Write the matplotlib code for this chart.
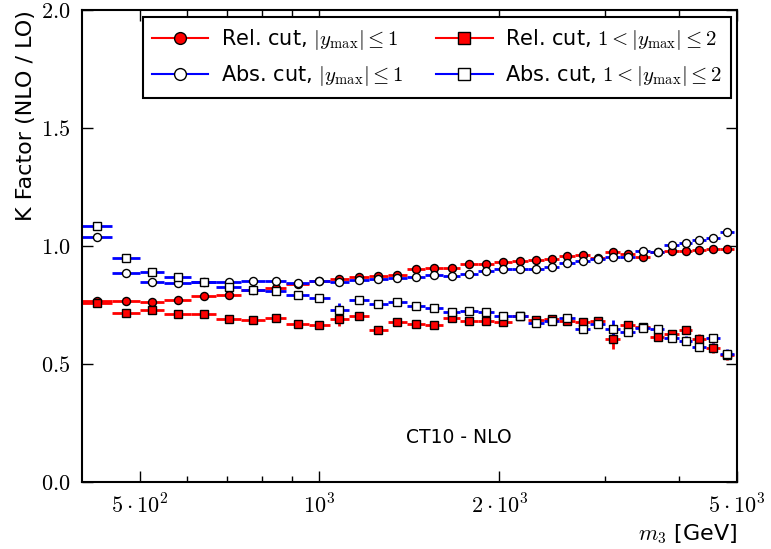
import numpy as np
import matplotlib
matplotlib.use("Agg")
import matplotlib.pyplot as plt
from matplotlib.lines import Line2D

plt.rcParams['mathtext.fontset'] = 'cm'
plt.rcParams['font.family'] = 'DejaVu Sans'

# bin edges in m3 [GeV]
edges = np.array([400, 450, 500, 550, 610, 670, 740, 810, 880, 960, 1040, 1120,
                  1210, 1300, 1400, 1500, 1610, 1720, 1840, 1960, 2100, 2230,
                  2380, 2520, 2680, 2840, 3010, 3190, 3380, 3580, 3780, 3990,
                  4210, 4440, 4690, 4940])

# K factors per bin
rel_central = [0.768, 0.767, 0.763, 0.773, 0.789, 0.794, 0.815, 0.823, 0.840, 0.850,
               0.861, 0.867, 0.873, 0.879, 0.901, 0.905, 0.908, 0.922, 0.925, 0.934,
               0.938, 0.941, 0.945, 0.958, 0.960, 0.948, 0.976, 0.966, 0.955, 0.974,
               0.977, 0.979, 0.982, 0.989, 0.987]
abs_central = [1.037, 0.884, 0.847, 0.845, 0.846, 0.847, 0.852, 0.852, 0.842, 0.852,
               0.846, 0.855, 0.861, 0.864, 0.867, 0.876, 0.873, 0.880, 0.894, 0.901,
               0.904, 0.904, 0.912, 0.929, 0.935, 0.944, 0.952, 0.955, 0.977, 0.973,
               1.006, 1.013, 1.025, 1.035, 1.058]
rel_forward = [0.757, 0.715, 0.730, 0.711, 0.712, 0.692, 0.688, 0.696, 0.671, 0.665,
               0.691, 0.705, 0.644, 0.678, 0.668, 0.664, 0.693, 0.684, 0.684, 0.679,
               0.705, 0.685, 0.692, 0.682, 0.679, 0.684, 0.605, 0.667, 0.655, 0.616,
               0.626, 0.643, 0.606, 0.568, 0.538]
abs_forward = [1.086, 0.948, 0.889, 0.870, 0.847, 0.828, 0.815, 0.811, 0.791, 0.781,
               0.730, 0.771, 0.754, 0.763, 0.746, 0.737, 0.722, 0.726, 0.719, 0.702,
               0.705, 0.672, 0.684, 0.693, 0.648, 0.669, 0.648, 0.634, 0.651, 0.647,
               0.609, 0.599, 0.573, 0.609, 0.544]

# statistical errors
err_central = [0.004] * 20 + [0.005] * 10 + [0.006] * 5
err_forward = [0.006, 0.006, 0.006, 0.006, 0.006, 0.006, 0.006, 0.006, 0.006, 0.006,
               0.030, 0.008, 0.008, 0.008, 0.008, 0.008, 0.010, 0.010, 0.010, 0.010,
               0.010, 0.010, 0.012, 0.012, 0.012, 0.012, 0.040, 0.015, 0.015, 0.015,
               0.015, 0.018, 0.020, 0.020, 0.020]

labels = [r"Rel. cut, $|y_{\rm max}|\leq 1$",
          r"Abs. cut, $|y_{\rm max}|\leq 1$",
          r"Rel. cut, $1<|y_{\rm max}|\leq 2$",
          r"Abs. cut, $1<|y_{\rm max}|\leq 2$"]

centres = 0.5 * (edges[:-1] + edges[1:])
xerr = [centres - edges[:-1], edges[1:] - centres]

fig = plt.figure(figsize=(7.71, 5.49), dpi=100)
ax = fig.add_axes([0.106, 0.122, 0.850, 0.860])

series = [
    (rel_central, err_central, 'red', 'red', 'o'),
    (rel_forward, err_forward, 'red', 'red', 's'),
    (abs_central, err_central, 'blue', 'white', 'o'),
    (abs_forward, err_forward, 'blue', 'white', 's'),
]
for vals, err, col, face, mk in series:
    ax.errorbar(centres, vals, xerr=xerr, yerr=err, fmt=mk, color=col,
                ecolor=col, elinewidth=2, capsize=0, markersize=5.8,
                markerfacecolor=face, markeredgecolor='black', markeredgewidth=1)

ax.set_xscale('log')
ax.set_xlim(400, 5000)
ax.set_ylim(0, 2)
ax.set_xticks([500, 1000, 2000, 5000])
ax.set_xticklabels([r"$5\cdot10^2$", r"$10^3$", r"$2\cdot10^3$", r"$5\cdot10^3$"])
ax.set_xticks([600, 700, 800, 900, 3000, 4000], minor=True)
ax.set_xticklabels([], minor=True)
ax.set_yticks([0, 0.5, 1.0, 1.5, 2.0])
ax.set_yticklabels([r"$0.0$", r"$0.5$", r"$1.0$", r"$1.5$", r"$2.0$"])
ax.tick_params(which='both', direction='in', top=True, right=True, labelsize=16, pad=8)
ax.tick_params(which='major', length=8, width=1)
ax.tick_params(which='minor', length=4, width=1)
for sp in ax.spines.values():
    sp.set_linewidth(1.5)

ax.set_ylabel("K Factor (NLO / LO)", fontsize=16, loc='top')
ax.set_xlabel(r"$m_3$ [GeV]", fontsize=16, loc='right')

ax.text(0.576, 0.095, "CT10 - NLO", transform=ax.transAxes, fontsize=13.5,
        ha='center', va='center')

handles = [
    Line2D([], [], color='red', lw=1.5, marker='o', markersize=8.5,
           markerfacecolor='red', markeredgecolor='black'),
    Line2D([], [], color='blue', lw=1.5, marker='o', markersize=8.5,
           markerfacecolor='white', markeredgecolor='black'),
    Line2D([], [], color='red', lw=1.5, marker='s', markersize=8.5,
           markerfacecolor='red', markeredgecolor='black'),
    Line2D([], [], color='blue', lw=1.5, marker='s', markersize=8.5,
           markerfacecolor='white', markeredgecolor='black'),
]
leg = ax.legend(handles, labels, loc='upper center', bbox_to_anchor=(0.542, 0.984),
                ncol=2, fontsize=15, fancybox=False, edgecolor='black', framealpha=1,
                handlelength=2.7, handletextpad=0.6, columnspacing=1.6,
                borderpad=0.45, labelspacing=0.55, borderaxespad=0)
leg.get_frame().set_linewidth(1.5)

fig.savefig("out.png", dpi=100)
